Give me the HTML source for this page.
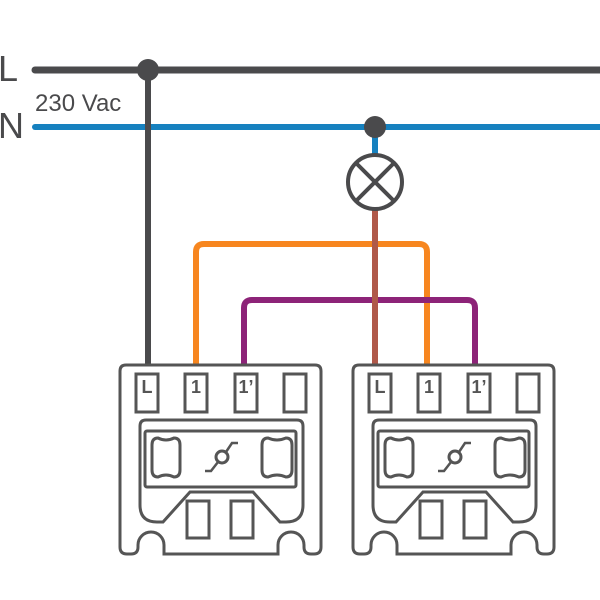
<!DOCTYPE html>
<html><head><style>html,body{margin:0;padding:0;background:#fff}svg{display:block}</style></head>
<body>
<svg width="600" height="600" viewBox="0 0 600 600" xmlns="http://www.w3.org/2000/svg" font-family="Liberation Sans, sans-serif">
<defs>
<g id="mod" fill="none" stroke="#555" stroke-width="3">
  <path d="M6,0 H195 Q201,0 201,6 V182 Q201,189 194,189 H191 Q184,189 184,182 V180 A13,13 0 0 0 158,180 V189 H44 V180 A13,13 0 0 0 18,180 V182 Q18,189 11,189 H7 Q0,189 0,182 V6 Q0,0 6,0 Z" fill="#fff"/>
  <rect x="16" y="9" width="22" height="38"/>
  <rect x="65" y="9" width="22" height="38"/>
  <rect x="115" y="9" width="22" height="38"/>
  <rect x="164" y="9" width="22" height="38"/>
  <path d="M20,61 Q20,55 26,55 H177 Q183,55 183,61 V140 Q183,157 166,157 H160 L133,127 H70 L43,157 H37 Q20,157 20,140 Z"/>
  <rect x="25" y="66" width="151" height="56" rx="2"/>
  <path d="M38,73 Q46,77 54,73 Q60,73 60,80 V105 Q60,112 54,112 Q46,108 38,112 Q32,112 32,105 V80 Q32,73 38,73 Z"/>
  <path d="M148,73 Q157,77 166,73 Q172,73 172,80 V105 Q172,112 166,112 Q157,108 148,112 Q142,112 142,105 V80 Q142,73 148,73 Z"/>
  <circle cx="102" cy="92" r="6"/>
  <path d="M98,97 L91,106 H85 M106,87 L112,78 H118" stroke-width="2.5"/>
  <rect x="67" y="136" width="22" height="37"/>
  <rect x="111" y="136" width="22" height="37"/>
</g>
</defs>
<line x1="35" y1="70" x2="600" y2="70" stroke="#4a4a4c" stroke-width="7" stroke-linecap="round"/>
<line x1="35" y1="127" x2="600" y2="127" stroke="#1681bf" stroke-width="6" stroke-linecap="round"/>
<text x="-2" y="81" font-size="36" fill="#4a4a4c">L</text>
<text x="-2" y="138" font-size="36" fill="#4a4a4c">N</text>
<text x="35" y="111" font-size="24" fill="#4a4a4c">230 Vac</text>
<line x1="148" y1="70" x2="148" y2="367" stroke="#4a4a4c" stroke-width="6"/>
<circle cx="148" cy="70" r="11" fill="#4a4a4c"/>
<line x1="375" y1="127" x2="375" y2="156" stroke="#1681bf" stroke-width="6"/>
<line x1="375" y1="208" x2="375" y2="367" stroke="#b0594a" stroke-width="6"/>
<path d="M196,367 V252 Q196,244 204,244 H419 Q427,244 427,252 V367" fill="none" stroke="#f7861f" stroke-width="6"/>
<path d="M244,367 V308 Q244,300 252,300 H467 Q475,300 475,308 V367" fill="none" stroke="#8d2378" stroke-width="6"/>
<line x1="375" y1="240" x2="375" y2="367" stroke="#b0594a" stroke-width="6"/>
<circle cx="375" cy="127" r="11" fill="#4a4a4c"/>
<circle cx="375" cy="182" r="27" fill="#fff" stroke="#4a4a4c" stroke-width="4"/>
<path d="M356,163 L394,201 M394,163 L356,201" stroke="#4a4a4c" stroke-width="4"/>
<use href="#mod" x="120" y="365"/>
<use href="#mod" x="353" y="365"/>
<g font-size="18" fill="#555" text-anchor="middle" font-weight="bold">
<text x="147" y="393">L</text><text x="196" y="393">1</text><text x="246" y="393">1’</text>
<text x="380" y="393">L</text><text x="429" y="393">1</text><text x="479" y="393">1’</text>
</g>
</svg>
</body></html>
